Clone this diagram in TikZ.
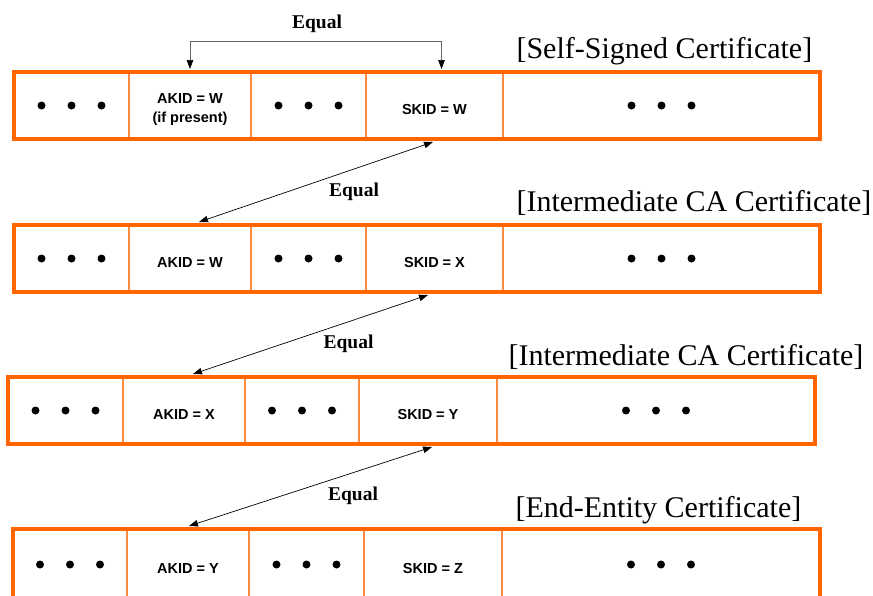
\documentclass[tikz,border=0pt]{standalone}
\usepackage{fontspec}
\setmainfont{Liberation Serif}
\setsansfont{Liberation Sans}
\usetikzlibrary{arrows.meta}
\definecolor{certorange}{RGB}{255,102,0}
\definecolor{cellorange}{RGB}{255,140,60}

\begin{document}
\begin{tikzpicture}[
x=1pt, y=-1pt,
cell/.style={rectangle, draw=cellorange, line width=1.2pt, inner sep=0pt, outer sep=3pt, minimum height=67pt, text height=17pt, text depth=0pt, font=\sffamily\bfseries\fontsize{14.5}{19}\selectfont},
dotcell/.style={cell, path picture={\foreach \d in {-30,0,30} \fill[black] ([xshift=\d pt]path picture bounding box.center) circle (4);}},
certframe/.style={rectangle, draw=certorange, line width=4pt, inner sep=0pt, minimum height=67pt},
certtitle/.style={anchor=base west, font=\fontsize{30}{36}\selectfont},
eqlabel/.style={anchor=base, font=\bfseries\fontsize{19.5}{22}\selectfont},
eqarrow/.style={{Triangle[length=9pt,width=6.5pt,color=black]}-{Triangle[length=9pt,width=6.5pt,color=black]}, line width=0.7pt},
]
\useasboundingbox (0,0) rectangle (873,595);

%Nodes
\node[dotcell, minimum width=115pt] (dotsa1) at (71.5,105.5) {};
\node[cell, minimum width=122pt, text height=30pt, text depth=15pt] (akid1) at (190,105.5) {\begin{tabular}{@{}c@{}}AKID = W\\(if present)\end{tabular}};
\node[dotcell, minimum width=115pt] (dotsb1) at (308.5,105.5) {};
\node[cell, minimum width=137pt]    (skid1)  at (434.5,105.5) {SKID = W};
\node[dotcell, minimum width=317pt] (dotsc1) at (661.5,105.5) {};
\node[certframe, minimum width=806pt] (cert1) at (417,105.5) {};

\node[dotcell, minimum width=115pt] (dotsa2) at (71.5,258.5) {};
\node[cell, minimum width=122pt]    (akid2)  at (190,258.5) {AKID = W};
\node[dotcell, minimum width=115pt] (dotsb2) at (308.5,258.5) {};
\node[cell, minimum width=137pt]    (skid2)  at (434.5,258.5) {SKID = X};
\node[dotcell, minimum width=317pt] (dotsc2) at (661.5,258.5) {};
\node[certframe, minimum width=806pt] (cert2) at (417,258.5) {};

\node[dotcell, minimum width=115pt] (dotsa3) at (65.5,410.5) {};
\node[cell, minimum width=122pt]    (akid3)  at (184,410.5) {AKID = X};
\node[dotcell, minimum width=114pt] (dotsb3) at (302,410.5) {};
\node[cell, minimum width=138pt]    (skid3)  at (428,410.5) {SKID = Y};
\node[dotcell, minimum width=318pt] (dotsc3) at (656,410.5) {};
\node[certframe, minimum width=807pt] (cert3) at (411.5,410.5) {};

\node[dotcell, minimum width=114pt, minimum height=71pt] (dotsa4) at (70,564.5) {};
\node[cell, minimum width=122pt, minimum height=71pt]    (akid4)  at (188,564.5) {AKID = Y};
\node[dotcell, minimum width=115pt, minimum height=71pt] (dotsb4) at (306.5,564.5) {};
\node[cell, minimum width=138pt, minimum height=71pt]    (skid4)  at (433,564.5) {SKID = Z};
\node[dotcell, minimum width=318pt, minimum height=71pt] (dotsc4) at (661,564.5) {};
\node[certframe, minimum width=807pt, minimum height=71pt] (cert4) at (416.5,564.5) {};

\node[certtitle] (title1) at (513,58)  {[Self-Signed Certificate]};
\node[certtitle] (title2) at (513,211) {[Intermediate CA Certificate]};
\node[certtitle] (title3) at (505,365) {[Intermediate CA Certificate]};
\node[certtitle] (title4) at (512,517) {[End-Entity Certificate]};

\node[eqlabel] (eq1) at (317,28)    {Equal};
\node[eqlabel] (eq2) at (354,196)   {Equal};
\node[eqlabel] (eq3) at (348.5,348) {Equal};
\node[eqlabel] (eq4) at (353,500)   {Equal};

%Lines
\draw[eqarrow, draw=black!60] (akid1.north) -- ++(0,-28) -| ([xshift=7pt]skid1.north);
\draw[eqarrow] ([xshift=-1.5pt]skid1.south) -- ([xshift=9pt]akid2.north);
\draw[eqarrow] ([xshift=-6.5pt]skid2.south) -- ([xshift=9pt]akid3.north);
\draw[eqarrow] ([xshift=4pt]skid3.south) -- ([xshift=1pt]akid4.north);
\end{tikzpicture}
\end{document}
